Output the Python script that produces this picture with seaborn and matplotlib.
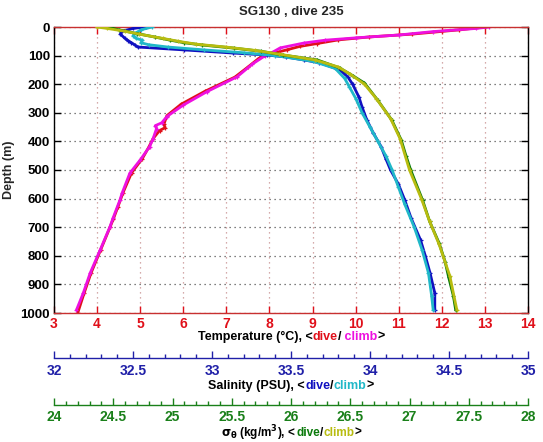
import matplotlib
matplotlib.use("Agg")
import matplotlib.pyplot as plt
import pandas as pd
import seaborn as sns
from matplotlib.ticker import MultipleLocator

# ---------------- data ----------------
temp_dive_depth = [0, 10, 25, 35, 45, 58, 68, 80, 95, 110, 140, 175, 225, 270, 310, 340, 352, 362, 390, 420,
                   460, 510, 580, 630, 670, 700, 780, 860, 930, 1000]
temp_dive = [13.0, 12.4, 11.3, 10.3, 9.6, 9.1, 8.7, 8.4, 8.0, 7.75, 7.5, 7.2, 6.5, 5.95, 5.62, 5.55, 5.58, 5.45,
             5.3, 5.2, 5.05, 4.8, 4.6, 4.48, 4.38, 4.3, 4.08, 3.86, 3.7, 3.55]
temp_climb_depth = [0, 5, 16, 28, 38, 46, 56, 73, 90, 100, 130, 174, 226, 273, 313, 335, 345, 355, 390, 418,
                    465, 511, 581, 605, 668, 698, 780, 860, 930, 990]
temp_climb = [13.1, 12.8, 11.8, 11.0, 10.0, 9.3, 8.8, 8.25, 8.05, 7.9, 7.6, 7.25, 6.55, 6.0, 5.62, 5.5, 5.35,
              5.38, 5.3, 5.22, 5.0, 4.76, 4.58, 4.53, 4.37, 4.3, 4.07, 3.84, 3.68, 3.52]

sal_dive_depth = [0, 5, 15, 25, 40, 48, 55, 62, 70, 80, 91, 98, 105, 115, 125, 150, 175, 200, 245, 280, 325,
                  370, 418, 460, 500, 550, 605, 668, 745, 800, 860, 930, 990]
sal_dive = [32.58, 32.5, 32.43, 32.42, 32.45, 32.47, 32.49, 32.51, 32.53, 32.82, 33.13, 33.35, 33.47, 33.58,
            33.68, 33.81, 33.86, 33.89, 33.93, 33.95, 33.98, 34.02, 34.07, 34.1, 34.13, 34.18, 34.22, 34.26,
            34.32, 34.35, 34.38, 34.41, 34.41]
sal_climb_depth = [0, 10, 20, 30, 40, 46, 55, 62, 70, 80, 90, 100, 120, 145, 180, 210, 250, 300, 350, 400,
                   450, 500, 560, 620, 700, 780, 860, 940, 990]
sal_climb = [32.62, 32.55, 32.52, 32.5, 32.52, 32.56, 32.55, 32.6, 32.72, 32.95, 33.2, 33.4, 33.64, 33.78,
             33.84, 33.87, 33.91, 33.95, 34.0, 34.05, 34.1, 34.14, 34.18, 34.22, 34.28, 34.33, 34.37, 34.39,
             34.4]

sig_dive_depth = [0, 10, 23, 35, 46, 55, 63, 74, 85, 98, 115, 143, 170, 196, 255, 325, 395, 450, 500, 605,
                  680, 756, 820, 874, 940, 990]
sig_dive = [24.45, 24.55, 24.7, 24.85, 24.98, 25.1, 25.25, 25.52, 25.75, 25.93, 26.22, 26.41, 26.52, 26.62,
            26.73, 26.85, 26.93, 26.97, 27.01, 27.11, 27.17, 27.25, 27.3, 27.33, 27.37, 27.39]
sig_climb_depth = [0, 5, 15, 25, 40, 50, 60, 70, 82, 95, 115, 140, 165, 200, 250, 320, 390, 500, 600, 680,
                   760, 870, 990]
sig_climb = [24.36, 24.45, 24.6, 24.72, 24.92, 25.05, 25.2, 25.45, 25.7, 25.9, 26.2, 26.4, 26.5, 26.62,
             26.72, 26.84, 26.92, 27.0, 27.1, 27.17, 27.25, 27.34, 27.4]

temp_ticks = list(range(3, 15))
sal_ticks = [32, 32.5, 33, 33.5, 34, 34.5, 35]
sig_ticks = [24, 24.5, 25, 25.5, 26, 26.5, 27, 27.5, 28]
depth_ticks = list(range(0, 1001, 100))

# ---------------- style ----------------
sns.set_style("white")
plt.rcParams["font.family"] = ["Liberation Sans", "DejaVu Sans"]
plt.rcParams["mathtext.fontset"] = "dejavusans"

RED = "#e0101a"
MAG = "#ee10e0"
BLUE = "#1010c0"
CYAN = "#20b8c8"
GREEN = "#0a7a0a"
YEL = "#b8bc10"
SAL_C = "#2020a8"
SIG_C = "#1a801a"
AX_RED = "#c83030"

W, H = 543, 442
fig = plt.figure(figsize=(W / 100, H / 100), dpi=100)
ax = fig.add_axes([54 / W, 1 - 313 / H, 474 / W, 286 / H])
ax_s = ax.twiny()
ax_g = ax.twiny()


def draw(axis, x, y, color):
    df = pd.DataFrame({"x": x, "y": y})
    sns.lineplot(data=df, x="x", y="y", ax=axis, sort=False, estimator=None, orient="y",
                 color=color, linewidth=2.0, linestyle="-", dashes=False,
                 marker="+", markersize=3, markeredgewidth=0.9, markeredgecolor=color)
    for ln in axis.get_lines():
        ln.set_linestyle("-")


draw(ax, temp_dive, temp_dive_depth, RED)
draw(ax, temp_climb, temp_climb_depth, MAG)
draw(ax_s, sal_dive, sal_dive_depth, BLUE)
draw(ax_s, sal_climb, sal_climb_depth, CYAN)
draw(ax_g, sig_dive, sig_dive_depth, GREEN)
draw(ax_g, sig_climb, sig_climb_depth, YEL)

# primary axes
ax.set_xlim(3, 14)
ax.set_ylim(1000, 0)
ax.set_xticks(temp_ticks)
ax.set_yticks(depth_ticks)
ax.set_xlabel("")
ax.set_ylabel("Depth (m)", fontsize=9, fontweight="bold", labelpad=4)
ax.tick_params(axis="x", direction="in", colors=RED, labelsize=10, length=5, width=1,
               top=True, bottom=True, pad=3)
ax.tick_params(axis="y", direction="in", colors="black", labelsize=9.5, length=5, width=1,
               left=True, right=True, pad=3)
for lab in ax.get_xticklabels() + ax.get_yticklabels():
    lab.set_fontweight("bold")
for side in ["top", "bottom"]:
    ax.spines[side].set_color(AX_RED)
    ax.spines[side].set_linewidth(1.0)
for side in ["left", "right"]:
    ax.spines[side].set_color("black")
    ax.spines[side].set_linewidth(1.0)
ax.xaxis.grid(True, color="#c89090", linestyle=(0, (1, 3)), linewidth=0.9)
ax.yaxis.grid(True, color="#555555", linestyle=(0, (1, 3)), linewidth=0.9)


def setup_twin(t, lim, ticks, color, offset):
    t.set_xlim(*lim)
    t.set_ylim(1000, 0)
    t.set_xticks(ticks)
    t.xaxis.set_minor_locator(MultipleLocator(0.1))
    t.xaxis.set_ticks_position("bottom")
    t.xaxis.set_label_position("bottom")
    t.spines["bottom"].set_position(("outward", offset))
    t.spines["bottom"].set_color(color)
    t.spines["bottom"].set_linewidth(1.0)
    for side in ["top", "left", "right"]:
        t.spines[side].set_visible(False)
    t.set_xlabel("")
    t.set_ylabel("")
    t.tick_params(axis="x", which="major", direction="in", colors=color, labelsize=10,
                  length=5, width=1, pad=4)
    t.tick_params(axis="x", which="minor", direction="in", colors=color, length=3, width=1)
    t.tick_params(axis="y", left=False, right=False, labelleft=False, labelright=False)
    t.grid(False)
    t.set_xticklabels([("%g" % v) for v in ticks])
    for lab in t.get_xticklabels():
        lab.set_fontweight("bold")


setup_twin(ax_s, (32, 35), sal_ticks, SAL_C, 32.4)
setup_twin(ax_g, (24, 28), sig_ticks, SIG_C, 66.0)
ax.set_ylim(1000, 0)

fig.text(291 / W, 1 - 12 / H, "SG130 , dive 235", ha="center", va="center",
         fontsize=9.5, fontweight="bold")

renderer = fig.canvas.get_renderer()


def color_label(parts, y_px, cx=291, fontsize=9):
    texts = []
    for s, c in parts:
        t = fig.text(0, 1 - y_px / H, s, color=c, fontsize=fontsize, fontweight="bold",
                     ha="left", va="center")
        texts.append(t)
    widths = [t.get_window_extent(renderer).width for t in texts]
    x0 = cx - sum(widths) / 2
    for t, w in zip(texts, widths):
        t.set_x(x0 / W)
        x0 += w


color_label([("Temperature (°C), <", "black"), ("dive", RED), ("/", "black"),
             ("\u00a0climb", MAG), (">", "black")], 337)
color_label([("Salinity (PSU), <", "black"), ("dive", BLUE), ("/", "black"),
             ("climb", CYAN), (">", "black")], 386)
color_label([(r"$\mathbf{\sigma_\theta}$ (kg/m$\mathbf{^3}$), <", "black"), ("dive", GREEN), ("/", "black"),
             ("climb", YEL), (">", "black")], 433, fontsize=8.5)

fig.savefig("out.png", dpi=100)
